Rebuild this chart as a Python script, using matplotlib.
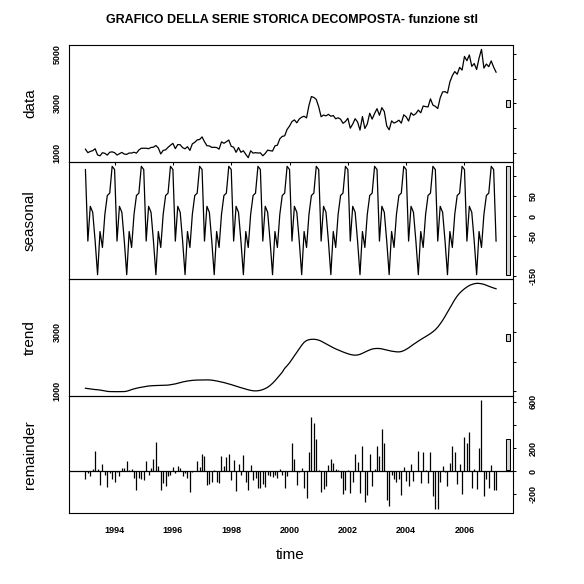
import numpy as np
import matplotlib
matplotlib.use('Agg')
import matplotlib.pyplot as plt
from matplotlib.patches import Rectangle

plt.rcParams['font.family'] = ['Liberation Sans', 'DejaVu Sans']

# ---------------- data (monthly, Jan 1993 - Feb 2007) ----------------
start_year = 1993
frequency = 12

seasonal_pattern = [117, -62, 25, 10, -62, -146, -38, -78, 5, 52, 58, 125]

trend = [
    1090, 1080, 1068, 1057, 1046, 1040, 1030, 1015, 1000, 985, 977, 975,      # 1993
    975, 974, 974, 975, 977, 990, 1015, 1045, 1070, 1090, 1110, 1125,        # 1994
    1140, 1155, 1168, 1175, 1180, 1183, 1185, 1188, 1190, 1192, 1198, 1210,  # 1995
    1225, 1240, 1262, 1285, 1305, 1322, 1338, 1350, 1360, 1367, 1371, 1373,  # 1996
    1375, 1376, 1376, 1374, 1368, 1355, 1340, 1322, 1303, 1285, 1262, 1240,  # 1997
    1215, 1188, 1160, 1135, 1110, 1085, 1060, 1038, 1018, 1005, 1000, 1005,  # 1998
    1020, 1045, 1080, 1125, 1185, 1260, 1345, 1440, 1540, 1640, 1770, 1860,  # 1999
    1960, 2080, 2200, 2320, 2440, 2560, 2660, 2720, 2750, 2762, 2765, 2755,  # 2000
    2735, 2700, 2655, 2610, 2565, 2520, 2475, 2435, 2400, 2365, 2330, 2300,  # 2001
    2270, 2245, 2228, 2220, 2228, 2250, 2285, 2325, 2365, 2400, 2430, 2445,  # 2002
    2450, 2448, 2435, 2415, 2395, 2375, 2358, 2345, 2335, 2332, 2345, 2375,  # 2003
    2420, 2470, 2530, 2590, 2645, 2700, 2755, 2805, 2855, 2905, 2960, 3020,  # 2004
    3090, 3180, 3290, 3410, 3545, 3690, 3840, 3985, 4120, 4240, 4340, 4420,  # 2005
    4490, 4550, 4600, 4635, 4660, 4675, 4672, 4660, 4640, 4610, 4575, 4545,  # 2006
    4515, 4490,                                                              # 2007
]

remainder = [
    -64, -15, -40, 17, 177, 17, -116, 64, -29, -133, -15, -64,               # 1993
    -90, -5, -38, 29, 29, 90, 12, 20, -55, -160, -55, -70,                   # 1994
    -75, 90, -29, 29, 107, 255, 46, -160, -99, -128, -38, -29,               # 1995
    38, -12, 46, 29, -38, -15, -55, -177, -5, 5, 90, 40,                     # 1996
    150, 133, -116, -107, -90, 12, -90, -99, 133, 46, 125, 150,              # 1997
    -72, 98, -168, 64, -29, 142, -90, -160, 55, -72, -55, -142,              # 1998
    -142, -107, -133, -29, -40, -46, -29, -55, 20, -29, -142, -38,           # 1999
    5, 246, 107, -116, -10, 29, -142, -229, 168, 464, 420, 281,              # 2000
    12, -177, -151, -125, 55, 107, 72, 20, 12, -55, -194, -160,              # 2001
    12, -186, -90, 150, 81, -186, 220, -264, -203, 150, -125, 20,            # 2002
    220, 133, 368, 246, -246, -299, -29, -64, -90, -64, -203, 38,            # 2003
    -81, -125, 64, -81, 5, 177, -99, 168, 12, -99, 168, -212,                # 2004
    -325, -325, -90, 46, -5, -125, 72, 220, 168, -107, 64, -194,             # 2005
    299, 246, 342, -142, 20, -151, 203, 612, -212, -64, -142, 55,            # 2006
    -160, -160,                                                              # 2007
]

panel_names = ['data', 'seasonal', 'trend', 'remainder']
x_tick_years = [1994, 1996, 1998, 2000, 2002, 2004, 2006]

y_ticks = {
    'data': [1000, 2000, 3000, 4000, 5000],
    'seasonal': [-150, -100, -50, 0, 50, 100],
    'trend': [1000, 2000, 3000, 4000],
    'remainder': [-200, 0, 200, 400, 600],
}
y_ticklabels = {
    'data': ['1000', '', '3000', '', '5000'],
    'seasonal': ['-150', '', '-50', '0', '50', ''],
    'trend': ['1000', '', '3000', ''],
    'remainder': ['-200', '0', '200', '', '600'],
}
label_side = {'data': 'left', 'seasonal': 'right', 'trend': 'left', 'remainder': 'right'}

# ---------------- derived series ----------------
trend_a = np.array(trend, dtype=float)
rem_a = np.array(remainder, dtype=float)
n = len(trend_a)
time = start_year + np.arange(n) / frequency
seasonal_a = np.resize(np.array(seasonal_pattern, dtype=float), n)
data_a = trend_a + seasonal_a + rem_a
series = {'data': data_a, 'seasonal': seasonal_a, 'trend': trend_a, 'remainder': rem_a}

# ---------------- figure ----------------
W = H = 584
fig = plt.figure(figsize=(W / 100, H / 100), dpi=100)
fig.patch.set_facecolor('white')

left_px, right_px = 69, 512.5
bounds = [45, 162, 279, 396, 513.3]

xr = time[-1] - time[0]
xlim = (time[0] - 0.04 * xr, time[-1] + 0.04 * xr)
mx = min(np.ptp(series[k]) for k in panel_names)
dx = (xlim[1] - xlim[0]) / 64

tick_fs = 6.5
axes = []
for i, name in enumerate(panel_names):
    top, bot = bounds[i], bounds[i + 1]
    ax = fig.add_axes([left_px / W, 1 - bot / H, (right_px - left_px) / W, (bot - top) / H])
    ax.set_facecolor('none')
    y = series[name]
    if name == 'remainder':
        ax.vlines(time, 0, y, color='black', lw=0.9)
        ax.axhline(0, color='black', lw=0.9)
    else:
        ax.plot(time, y, color='black', lw=0.9)
    yr = np.ptp(y)
    ax.set_ylim(y.min() - 0.04 * yr, y.max() + 0.04 * yr)
    ax.set_xlim(*xlim)
    # range bar
    yc = (y.min() + y.max()) / 2
    ax.add_patch(Rectangle((xlim[1] - dx, yc - mx / 2), 0.6 * dx, mx,
                           facecolor='#D3D3D3', edgecolor='black', lw=0.75,
                           clip_on=False, zorder=3))
    for sp in ax.spines.values():
        sp.set_linewidth(0.8)
    # y axis
    ax.set_yticks(y_ticks[name])
    ax.set_yticklabels(y_ticklabels[name])
    if label_side[name] == 'left':
        ax.tick_params(axis='y', left=False, right=True, labelleft=True, labelright=False,
                       direction='out', length=2.2, width=0.75, pad=3.0,
                       labelsize=tick_fs, labelrotation=90)
    else:
        ax.tick_params(axis='y', left=False, right=True, labelleft=False, labelright=True,
                       direction='out', length=2.2, width=0.75, pad=9.5,
                       labelsize=tick_fs, labelrotation=90)
    for lbl in ax.get_yticklabels():
        lbl.set_fontweight('bold')
        lbl.set_va('center')
    # x axis
    ax.set_xticks(x_tick_years)
    if i == 0:
        ax.tick_params(axis='x', bottom=True, top=False, labelbottom=False,
                       direction='out', length=2.2, width=0.75)
    elif i == len(panel_names) - 1:
        ax.set_xticklabels([str(v) for v in x_tick_years])
        ax.tick_params(axis='x', bottom=False, top=False, labelbottom=True,
                       length=0, pad=9.5, labelsize=tick_fs)
        for lbl in ax.get_xticklabels():
            lbl.set_fontweight('bold')
    else:
        ax.tick_params(axis='x', bottom=False, top=False, labelbottom=False)
    fig.text(30 / W, 1 - ((top + bot) / 2) / H, name, rotation=90,
             ha='center', va='center', fontsize=11)
    axes.append(ax)

fig.text(290 / W, 1 - 555 / H, 'time', ha='center', va='center', fontsize=11)
fig.text(0.5, 1 - 20 / H, 'GRAFICO DELLA SERIE STORICA DECOMPOSTA- funzione stl',
         ha='center', va='center', fontsize=9, fontweight='bold')

fig.savefig('out.png', dpi=100)
